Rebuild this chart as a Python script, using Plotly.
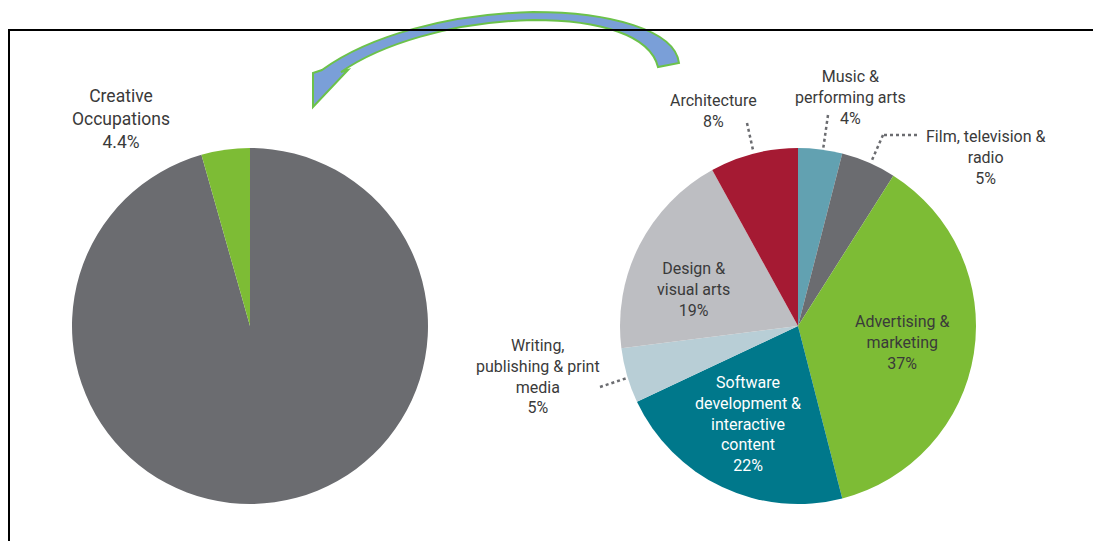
import plotly.graph_objects as go

W, H = 1093, 541

# ---- data ----
overall_labels = ["Other occupations", "Creative Occupations"]
overall_values = [95.6, 4.4]

creative_labels = [
    "Music & performing arts",
    "Film, television & radio",
    "Advertising & marketing",
    "Software development & interactive content",
    "Writing, publishing & print media",
    "Design & visual arts",
    "Architecture",
]
creative_values = [4, 5, 37, 22, 5, 19, 8]

# line-wrapped display versions of the labels
wrapped = {
    "Creative Occupations": "Creative<br>Occupations",
    "Music & performing arts": "Music &<br>performing arts",
    "Film, television & radio": "Film, television &<br>radio",
    "Advertising & marketing": "Advertising &<br>marketing",
    "Software development & interactive content": "Software<br>development &<br>interactive<br>content",
    "Writing, publishing & print media": "Writing,<br>publishing & print<br>media",
    "Design & visual arts": "Design &<br>visual arts",
    "Architecture": "Architecture",
}

overall_colors = ["#6b6c70", "#7dbc35"]
creative_colors = ["#62a1b1", "#6b6c70", "#7dbc35", "#00788b", "#b8ced6", "#bdbec2", "#a51a33"]

FONT = "Liberation Sans Narrow, Roboto, Arial, sans-serif"
TXT = "#3a3a3a"

R = 178
cy = 326
cl, cr = 250, 798


def dom(cx):
    return dict(x=[(cx - R) / W, (cx + R) / W], y=[(H - (cy + R)) / H, (H - (cy - R)) / H])


fig = go.Figure()
fig.add_trace(go.Pie(
    labels=overall_labels, values=overall_values, sort=False, direction="clockwise",
    marker=dict(colors=overall_colors, line=dict(width=0)), textinfo="none",
    domain=dom(cl), showlegend=False, hoverinfo="label+percent",
))
fig.add_trace(go.Pie(
    labels=creative_labels, values=creative_values, sort=False, direction="clockwise",
    marker=dict(colors=creative_colors, line=dict(width=0)), textinfo="none",
    domain=dom(cr), showlegend=False, hoverinfo="label+percent",
))

# label positions (pixel space)
pos_overall = {"Creative Occupations": (121, 119, 17.5, TXT)}
pos_creative = {
    "Music & performing arts": (850, 97, 16, TXT),
    "Film, television & radio": (985, 157, 16, TXT),
    "Advertising & marketing": (902, 342, 16, TXT),
    "Software development & interactive content": (748, 424, 16, "white"),
    "Writing, publishing & print media": (538, 376, 16, TXT),
    "Design & visual arts": (693, 289, 16, TXT),
    "Architecture": (713, 111, 16, TXT),
}

annotations = []


def fmt(v):
    return f"{v:g}%"


for lab, val in zip(overall_labels, overall_values):
    if lab in pos_overall:
        x, y, s, c = pos_overall[lab]
        annotations.append(dict(x=x, y=y, xref="x", yref="y", text=wrapped[lab] + "<br>" + fmt(val),
                                showarrow=False, font=dict(family=FONT, size=s, color=c), align="center"))
for lab, val in zip(creative_labels, creative_values):
    x, y, s, c = pos_creative[lab]
    annotations.append(dict(x=x, y=y, xref="x", yref="y", text=wrapped[lab] + "<br>" + fmt(val),
                            showarrow=False, font=dict(family=FONT, size=s, color=c), align="center"))

shapes = []
# leader lines (dotted)
dot = dict(color="#6b6c70", width=2.5, dash="dot")
for (x0, y0, x1, y1) in [(747, 123, 753, 150), (828, 115, 823, 150), (917, 135, 883, 135),
                         (883, 135, 872, 160), (600, 387, 627, 378)]:
    shapes.append(dict(type="line", xref="x", yref="y", x0=x0, y0=y0, x1=x1, y1=y1, line=dot))

# curved arrow
arrow = ("M 679,63 C 675,30 610,12 533,12 C 450,14 370,35 322,70 "
         "L 313,73 L 313,107 L 348,70 L 341,72 "
         "C 380,45 450,22 533,20 C 600,20 650,35 658,67 Z")
shapes.append(dict(type="path", xref="x", yref="y", path=arrow, fillcolor="#7a9fd8",
                   line=dict(color="#6cc24a", width=2)))
# frame
shapes.append(dict(type="rect", xref="x", yref="y", x0=9, y0=30, x1=1110, y1=560,
                   line=dict(color="black", width=2), fillcolor="rgba(0,0,0,0)"))

fig.update_layout(
    width=W, height=H, margin=dict(l=0, r=0, t=0, b=0),
    paper_bgcolor="white", plot_bgcolor="white",
    xaxis=dict(range=[0, W], visible=False, fixedrange=True, domain=[0, 1]),
    yaxis=dict(range=[H, 0], visible=False, fixedrange=True, domain=[0, 1]),
    annotations=annotations, shapes=shapes, showlegend=False,
)

fig.write_html("out.html")
